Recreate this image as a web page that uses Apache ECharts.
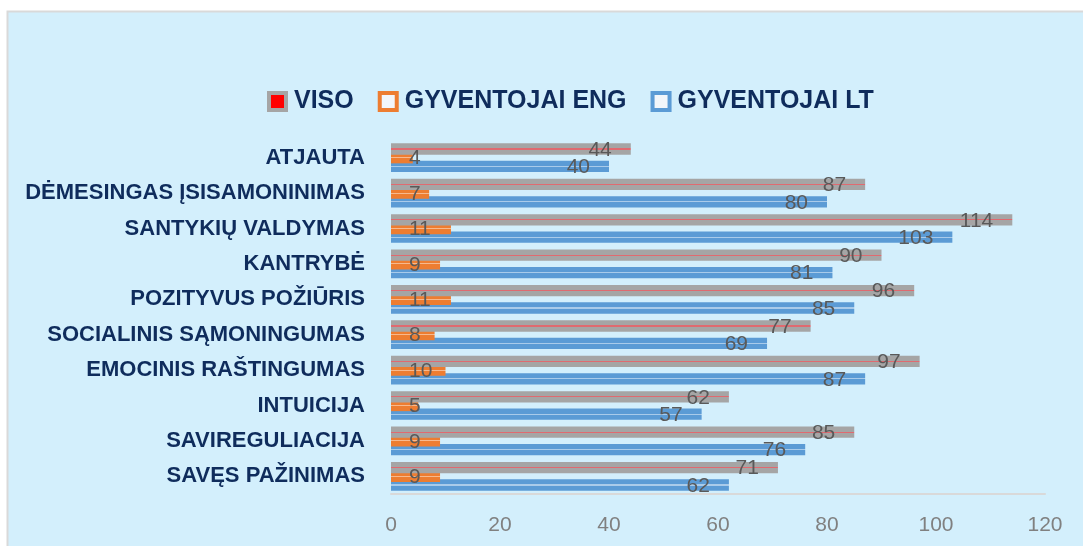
<!DOCTYPE html>
<html lang="lt">
<head>
    <meta charset="UTF-8" />
    <title>Chart</title>
    <script src="https://cdn.jsdelivr.net/npm/echarts@6/dist/echarts.min.js"></script>
    <style>
        * { margin: 0; padding: 0; }
        body { background: #fff; }
        #main { width: 1083px; height: 546px; }
    </style>
</head>
<body>
    <div id="main"></div>
<script>
    // kategorijos (nuo apačios į viršų, kaip y ašyje)
    const categories = [
        "SAVĘS PAŽINIMAS", "SAVIREGULIACIJA", "INTUICIJA", "EMOCINIS RAŠTINGUMAS",
        "SOCIALINIS SĄMONINGUMAS", "POZITYVUS POŽIŪRIS", "KANTRYBĖ",
        "SANTYKIŲ VALDYMAS", "DĖMESINGAS ĮSISAMONINIMAS", "ATJAUTA"
    ];
    const visoData = [71, 85, 62, 97, 77, 96, 90, 114, 87, 44];
    const engData = [9, 9, 5, 10, 8, 11, 9, 11, 7, 4];
    const ltData = [62, 76, 57, 87, 69, 85, 81, 103, 80, 40];
    const xTicks = [0, 20, 40, 60, 80, 100, 120];

    const navy = "#0F2C5C";
    const labelColor = "#595959";

    // juosta su plona linija per vidurį
    function striped(base, line) {
        return new echarts.graphic.LinearGradient(0, 0, 0, 1, [
            { offset: 0, color: base },
            { offset: 0.455, color: base },
            { offset: 0.455, color: line },
            { offset: 0.545, color: line },
            { offset: 0.545, color: base },
            { offset: 1, color: base }
        ]);
    }

    var myChart = echarts.init(document.getElementById("main"));
    var labelFont = { fontFamily: "Liberation Sans", fontSize: 21, color: labelColor };
    var option = {
        backgroundColor: "#fff",
        animation: false,
        graphic: [{
            type: "rect",
            z: -10,
            shape: { x: 7.5, y: 11.5, width: 1100, height: 560 },
            style: { fill: "#D3EFFC", stroke: "#D9D9D9", lineWidth: 2 }
        }],
        legend: {
            left: 262,
            top: 84,
            itemWidth: 17,
            itemHeight: 17,
            itemGap: 24,
            icon: "rect",
            textStyle: {
                fontFamily: "Liberation Sans",
                fontWeight: "bold",
                fontSize: 25,
                color: navy,
                padding: [0, 0, 0, 3]
            },
            data: [
                { name: "VISO", itemStyle: { color: "#FF0000", borderColor: "#A5A5A5", borderWidth: 4 } },
                { name: "GYVENTOJAI ENG", itemStyle: { color: "#F2F6FA", borderColor: "#ED7D31", borderWidth: 4 } },
                { name: "GYVENTOJAI LT", itemStyle: { color: "#F2F6FA", borderColor: "#5B9BD5", borderWidth: 4 } }
            ]
        },
        grid: { left: 391, right: 38, top: 140, bottom: 52 },
        xAxis: {
            type: "value",
            min: xTicks[0],
            max: xTicks[xTicks.length - 1],
            interval: 20,
            splitLine: { show: false },
            axisTick: { show: false },
            axisLine: { show: true, lineStyle: { color: "#D9D9D9", width: 2 } },
            axisLabel: { margin: 21, fontFamily: "Liberation Sans", fontSize: 21, color: "#808080" }
        },
        yAxis: {
            type: "category",
            data: categories,
            axisTick: { show: false },
            axisLine: { show: false },
            axisLabel: {
                margin: 26,
                fontFamily: "Liberation Sans",
                fontWeight: "bold",
                fontSize: 22,
                color: navy
            }
        },
        series: [
            {
                name: "VISO",
                type: "bar",
                z: 4,
                barWidth: 11.3,
                barGap: "-23%",
                data: visoData,
                itemStyle: { color: striped("#A5A5A5", "#E06A70") },
                label: Object.assign({ show: true, position: "insideRight", distance: 19, offset: [0, 1] }, labelFont)
            },
            {
                name: "GYVENTOJAI ENG",
                type: "bar",
                z: 3,
                barWidth: 11.3,
                barGap: "-23%",
                data: engData,
                itemStyle: { color: striped("#ED7D31", "#F6B98E") }
            },
            {
                name: "GYVENTOJAI LT",
                type: "bar",
                z: 2,
                barWidth: 11.3,
                barGap: "-23%",
                data: ltData,
                itemStyle: { color: striped("#5B9BD5", "#A9CBEA") },
                label: Object.assign({ show: true, position: "insideRight", distance: 19, offset: [0, 1] }, labelFont)
            },
            {
                // ENG reikšmių užrašai virš visų juostų
                type: "custom",
                z: 10,
                encode: { x: 0, y: 1 },
                data: engData.map((v, i) => [v, i]),
                renderItem: function (params, api) {
                    var p = api.coord([0, api.value(1)]);
                    return {
                        type: "text",
                        x: p[0] + 18,
                        y: p[1] + 1,
                        style: {
                            text: String(api.value(0)),
                            fill: labelColor,
                            font: "21px 'Liberation Sans'",
                            align: "left",
                            verticalAlign: "middle"
                        }
                    };
                }
            }
        ]
    };
    option && myChart.setOption(option);
</script>
</body>
</html>
